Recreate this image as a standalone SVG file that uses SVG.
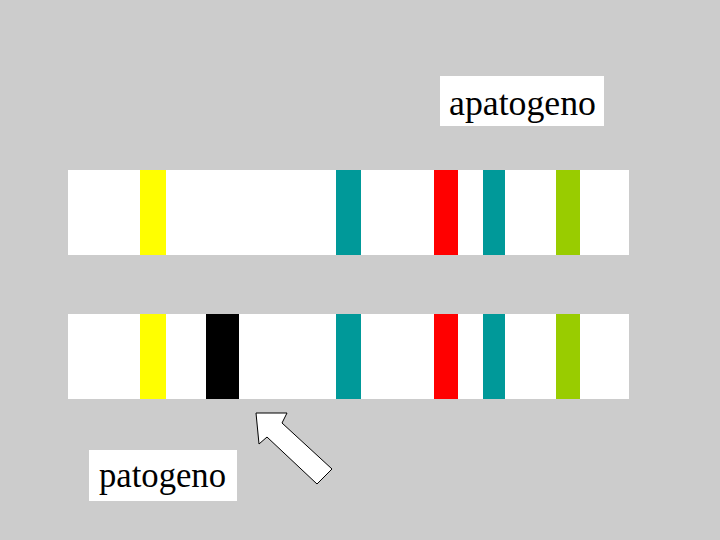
<svg xmlns="http://www.w3.org/2000/svg" width="720" height="540" viewBox="0 0 720 540">
<style>
.strip{fill:#ffffff}
.lbl{font-family:"Liberation Serif","Times New Roman",serif;font-size:35px;fill:#000}
.box{fill:#ffffff}
</style>
<rect width="720" height="540" fill="#cccccc"/>
<g id="strip-apatogeno">
<rect class="strip" x="68" y="170" width="561" height="85"/>
<rect x="140" y="170" width="26" height="85" fill="#ffff00"/>
<rect x="336" y="170" width="25" height="85" fill="#009999"/>
<rect x="434" y="170" width="24" height="85" fill="#ff0000"/>
<rect x="483" y="170" width="22" height="85" fill="#009999"/>
<rect x="556" y="170" width="24" height="85" fill="#99cc00"/>
</g>
<g id="strip-patogeno">
<rect class="strip" x="68" y="314" width="561" height="85"/>
<rect x="140" y="314" width="26" height="85" fill="#ffff00"/>
<rect x="206" y="314" width="33" height="85" fill="#000000"/>
<rect x="336" y="314" width="25" height="85" fill="#009999"/>
<rect x="434" y="314" width="24" height="85" fill="#ff0000"/>
<rect x="483" y="314" width="22" height="85" fill="#009999"/>
<rect x="556" y="314" width="24" height="85" fill="#99cc00"/>
</g>
<g id="label-apatogeno">
<rect class="box" x="440" y="76" width="164" height="50"/>
<text class="lbl" x="449" y="115" textLength="147" lengthAdjust="spacingAndGlyphs">apatogeno</text>
</g>
<g id="label-patogeno">
<rect class="box" x="89" y="450" width="148" height="51"/>
<text class="lbl" x="99" y="487" textLength="127" lengthAdjust="spacingAndGlyphs">patogeno</text>
</g>
<g id="arrow">
<polygon points="256,413 287,413 282,423 332,469 317,484 267,437 259,444" fill="#ffffff" stroke="#000000" stroke-width="1"/>
</g>
</svg>
